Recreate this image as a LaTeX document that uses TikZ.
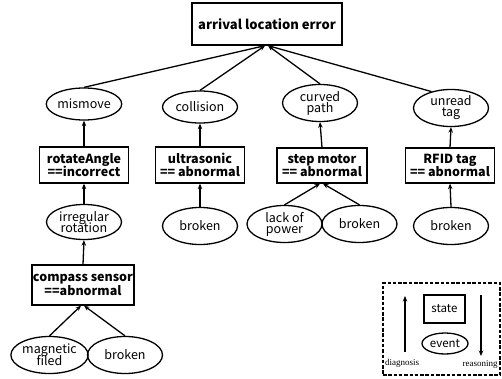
\documentclass[tikz,border=0pt]{standalone}
\usepackage{fontspec}
\setmainfont{Noto Sans CJK KR}
\newfontfamily\legserif{Liberation Serif}
\usetikzlibrary{shapes.geometric,arrows.meta}
\tikzset{
  arr/.style={line width=1.3pt,-{Stealth[length=5.5pt,width=4.5pt]}},
  stbox/.style={draw,line width=1.3pt,rectangle,align=center,font=\fontsize{12.5}{13.5}\selectfont\bfseries,inner sep=1pt},
  ev/.style={draw,line width=1.3pt,ellipse,align=center,font=\fontsize{12.5}{13}\selectfont,inner sep=0pt,minimum width=75pt},
}
\begin{document}
\begin{tikzpicture}[x=1pt,y=-1pt]
\useasboundingbox (0,0) rectangle (502,379);
% top
\node[stbox,minimum width=150pt,minimum height=42pt,font=\fontsize{13}{14}\selectfont\bfseries] (top) at (267,24) {arrival location error};
% row 1
\node[ev,minimum height=32pt] (mis) at (84,104) {mismove};
\node[ev,minimum height=32pt] (col) at (200,107) {collision};
\node[ev,minimum height=37pt] (cur) at (320,103) {curved\\[-2pt]path};
\node[ev,minimum height=37pt] (unr) at (451,108) {unread\\[-2pt]tag};
% row 2
\node[stbox,minimum width=89pt,minimum height=36pt] (rot) at (84,165) {rotateAngle\\==incorrect};
\node[stbox,minimum width=89pt,minimum height=36pt] (ult) at (200,165) {ultrasonic\\== abnormal};
\node[stbox,minimum width=90pt,minimum height=35pt] (stp) at (322,165.5) {step motor\\== abnormal};
\node[stbox,minimum width=89pt,minimum height=35pt] (rfid) at (450,165.5) {RFID tag\\== abnormal};
% row 3
\node[ev,minimum height=35pt] (irr) at (84,222) {irregular\\[-2pt]rotation};
\node[ev,minimum height=37pt] (br1) at (200,226) {broken};
\node[ev,minimum height=37pt] (lack) at (284.5,224) {lack of\\[-2pt]power};
\node[ev,minimum height=37pt] (br2) at (359.5,224) {broken};
\node[ev,minimum height=37pt] (br3) at (451,226) {broken};
% row 4
\node[stbox,minimum width=101pt,minimum height=40pt] (cmp) at (83,285) {compass sensor\\==abnormal};
\node[ev,minimum height=37pt] (mag) at (49.5,355) {magnetic\\[-2pt]filed};
\node[ev,minimum height=37pt] (br4) at (125,355) {broken};
% connectors
\draw[arr] (mis.north) -- ([xshift=-2pt]top.south);
\draw[arr] (col.north) -- ([xshift=-2pt]top.south);
\draw[arr] (cur.north) -- ([xshift=1pt]top.south);
\draw[arr] (unr.140) -- ([xshift=1pt]top.south);
\draw[arr] (rot.north) -- (mis.south);
\draw[arr] (ult.north) -- (col.south);
\draw[arr] (stp.north) -- (cur.south);
\draw[arr] (rfid.north) -- (unr.south);
\draw[arr] (irr.north) -- (rot.south);
\draw[arr] (br1.north) -- (ult.south);
\draw[arr] (lack.north) -- ([xshift=-2pt]stp.south);
\draw[arr] (br2.north) -- ([xshift=1pt]stp.south);
\draw[arr] (br3.north) -- (rfid.south);
\draw[arr] (cmp.north) -- (irr.south);
\draw[arr] (mag.north) -- ([xshift=-2pt]cmp.south);
\draw[arr] (br4.north) -- ([xshift=1pt]cmp.south);
% legend
\node[draw,dash pattern=on 3.5pt off 1.8pt,line width=1.3pt,minimum width=117pt,minimum height=92pt,inner sep=0pt] (leg) at (441.5,329) {};
\node[draw,line width=1.3pt,minimum width=41pt,minimum height=28pt,inner sep=0pt,font=\fontsize{11.5}{12}\selectfont] (st) at (444.5,309) {state};
\node[draw,line width=1.3pt,ellipse,minimum width=46pt,minimum height=21pt,inner sep=0pt,font=\fontsize{11.5}{12}\selectfont] (ev) at (445,343.5) {event};
\coordinate (d1) at (405,352);
\coordinate (d2) at (405,296);
\coordinate (r1) at (481,295);
\coordinate (r2) at (481,356);
\draw[arr] (d1) -- (d2);
\draw[arr] (r1) -- (r2);
\node[font=\legserif\fontsize{9}{10}\selectfont,inner sep=0pt] (dg) at (402,363) {diagnosis};
\node[font=\legserif\fontsize{9}{10}\selectfont,inner sep=0pt] (rs) at (480,364) {reasoning};
\end{tikzpicture}
\end{document}
